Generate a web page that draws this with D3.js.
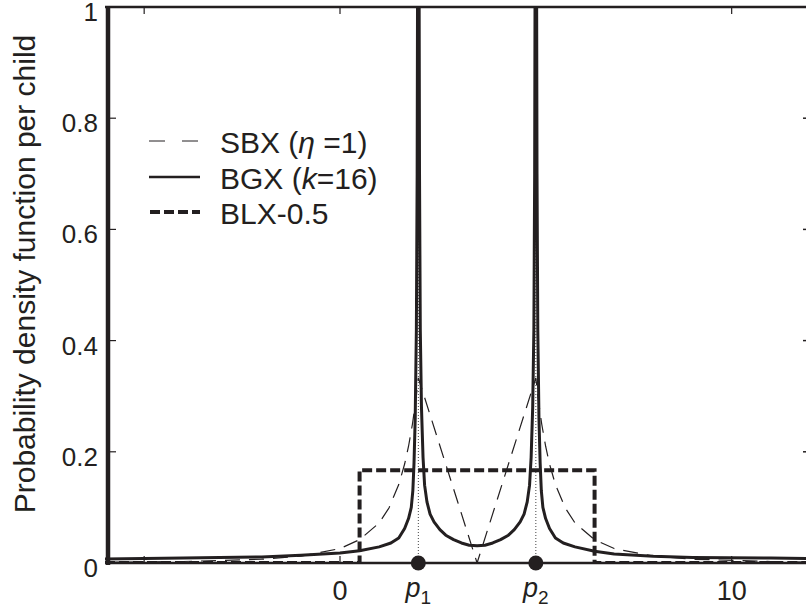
<!DOCTYPE html>
<html>
<head>
<meta charset="utf-8">
<script src="https://d3js.org/d3.v7.min.js"></script>
<style>
  body { margin: 0; background: #fff; }
  text { font-family: "Liberation Sans", Arial, Helvetica, sans-serif; fill: #231f20; }
</style>
</head>
<body>
<svg id="chart" width="806" height="614"></svg>
<script>
  // parents
  var parents = [2, 5];

  // axis ticks
  var xTicks = [-5, 0, 5, 10];
  var xLabelVals = [0, 2, 5, 10];
  var xLabelText = ["0", "p1", "p2", "10"];
  var yTicks = [0, 0.2, 0.4, 0.6, 0.8, 1];
  var yLabelText = ["0", "0.2", "0.4", "0.6", "0.8", "1"];

  // SBX (eta = 1)
  var sbxX = [-6, -4, -2, -1, 0, 0.5, 1, 1.25, 1.5, 1.65, 1.75, 1.85, 1.9, 1.95, 2,
              2.5, 3, 3.5, 4, 4.5,
              5, 5.05, 5.1, 5.15, 5.25, 5.35, 5.5, 5.75, 6, 6.5, 7, 8, 9, 11, 12];
  var sbxY = [0.0013, 0.0027, 0.0068, 0.0123, 0.026, 0.042, 0.072, 0.099, 0.141, 0.178, 0.21, 0.25, 0.275, 0.302, 0.333,
              0.222, 0.111, 0, 0.111, 0.222,
              0.333, 0.302, 0.275, 0.25, 0.21, 0.178, 0.141, 0.099, 0.072, 0.042, 0.026, 0.0123, 0.0068, 0.0027, 0.0017];

  // BGX (k = 16)
  var bgxX = [-6, -4, -2, -1, 0, 0.5, 1.0, 1.3, 1.5, 1.65, 1.75, 1.82, 1.86, 1.89, 1.92, 1.95, 1.97, 1.985,
              2.015, 2.03, 2.05, 2.08, 2.12, 2.16, 2.22, 2.3, 2.4, 2.55, 2.7, 2.9, 3.1, 3.3, 3.5,
              3.7, 3.9, 4.1, 4.3, 4.45, 4.6, 4.7, 4.78, 4.84, 4.88, 4.92, 4.95, 4.97, 4.985,
              5.015, 5.03, 5.05, 5.08, 5.11, 5.14, 5.18, 5.25, 5.35, 5.5, 5.7, 6.0, 6.5, 7, 8, 9, 11, 12];
  var bgxY = [0.007, 0.009, 0.011, 0.014, 0.018, 0.022, 0.029, 0.036, 0.045, 0.062, 0.08, 0.1, 0.13, 0.18, 0.26, 0.42, 0.7, 1.2,
              1.2, 0.7, 0.42, 0.28, 0.19, 0.14, 0.11, 0.088, 0.074, 0.06, 0.05, 0.042, 0.036, 0.032, 0.031,
              0.032, 0.036, 0.042, 0.05, 0.06, 0.074, 0.088, 0.11, 0.14, 0.19, 0.28, 0.42, 0.7, 1.2,
              1.2, 0.7, 0.42, 0.26, 0.18, 0.13, 0.1, 0.08, 0.062, 0.045, 0.036, 0.029, 0.021, 0.016, 0.012, 0.010, 0.009, 0.008];

  // BLX-0.5
  var blxX = [-6, 0.5, 0.5, 6.5, 6.5, 12];
  var blxY = [0, 0, 0.167, 0.167, 0, 0];

  var svg = d3.select("#chart");

  var x = d3.scaleLinear().domain([-6, 12]).range([105, 810]);
  var y = d3.scaleLinear().domain([0, 1]).range([563, 7]);

  svg.append("clipPath").attr("id", "plotclip")
    .append("rect")
      .attr("x", x(-6)).attr("y", y(1))
      .attr("width", x(12) - x(-6)).attr("height", y(0) - y(1));

  var plot = svg.append("g").attr("clip-path", "url(#plotclip)");

  function pts(xs, ys) { return xs.map(function(v, i) { return [v, ys[i]]; }); }
  var line = d3.line()
    .x(function(d) { return x(d[0]); })
    .y(function(d) { return y(d[1]); });

  // dotted guides at the parents
  plot.selectAll(".guide")
    .data(parents)
    .enter().append("line")
      .attr("x1", function(d) { return x(d); })
      .attr("x2", function(d) { return x(d); })
      .attr("y1", y(0)).attr("y2", y(1))
      .attr("stroke", "#444")
      .attr("stroke-width", 1)
      .attr("stroke-dasharray", "1,2");

  plot.append("path")
    .datum(pts(blxX, blxY))
    .attr("fill", "none")
    .attr("stroke", "#231f20")
    .attr("stroke-width", 4)
    .attr("stroke-dasharray", "10,4")
    .attr("d", line);

  plot.append("path")
    .datum(pts(sbxX, sbxY))
    .attr("fill", "none")
    .attr("stroke", "#231f20")
    .attr("stroke-width", 1.2)
    .attr("stroke-dasharray", "15,9")
    .attr("d", line);

  plot.append("path")
    .datum(pts(bgxX, bgxY))
    .attr("fill", "none")
    .attr("stroke", "#231f20")
    .attr("stroke-width", 3)
    .attr("stroke-linejoin", "round")
    .attr("d", line);

  // frame
  var frame = svg.append("g").attr("stroke", "#231f20").attr("fill", "none");
  frame.append("line").attr("x1", x(-6)).attr("x2", 820).attr("y1", y(1)).attr("y2", y(1)).attr("stroke-width", 2.5);
  frame.append("line").attr("x1", x(-6)).attr("x2", 820).attr("y1", y(0)).attr("y2", y(0)).attr("stroke-width", 2.5);
  frame.append("line").attr("x1", x(-6) + 3).attr("x2", x(-6) + 3).attr("y1", y(1) - 1).attr("y2", y(0) + 2).attr("stroke-width", 4.5);

  // x ticks, bottom and top
  frame.selectAll(".xtb").data(xTicks).enter().append("line")
    .attr("x1", function(d) { return x(d); }).attr("x2", function(d) { return x(d); })
    .attr("y1", y(0)).attr("y2", y(0) - 7).attr("stroke-width", 1.2);
  frame.selectAll(".xtt").data(xTicks).enter().append("line")
    .attr("x1", function(d) { return x(d); }).attr("x2", function(d) { return x(d); })
    .attr("y1", y(1)).attr("y2", y(1) + 7).attr("stroke-width", 1.2);

  // y ticks, left and right
  frame.selectAll(".ytl").data(yTicks).enter().append("line")
    .attr("x1", x(-6) + 5).attr("x2", x(-6) + 11)
    .attr("y1", function(d) { return y(d); }).attr("y2", function(d) { return y(d); })
    .attr("stroke-width", 1.2);
  frame.selectAll(".ytr").data(yTicks).enter().append("line")
    .attr("x1", x(12) - 7).attr("x2", x(12))
    .attr("y1", function(d) { return y(d); }).attr("y2", function(d) { return y(d); })
    .attr("stroke-width", 1.5);

  // parent markers
  svg.selectAll(".parent")
    .data(parents)
    .enter().append("circle")
      .attr("cx", function(d) { return x(d); })
      .attr("cy", y(0))
      .attr("r", 7.5)
      .attr("fill", "#231f20");

  // y tick labels
  svg.selectAll(".ylab")
    .data(yTicks)
    .enter().append("text")
      .attr("x", 98)
      .attr("y", function(d) { return y(d) + 14; })
      .attr("text-anchor", "end")
      .style("font-size", "26px")
      .text(function(d, i) { return yLabelText[i]; });

  // x tick labels
  var xl = svg.selectAll(".xlab")
    .data(xLabelVals)
    .enter().append("text")
      .attr("x", function(d) { return x(d); })
      .attr("y", 600)
      .attr("text-anchor", "middle")
      .style("font-size", "27px");
  xl.each(function(d, i) {
    var t = d3.select(this), s = xLabelText[i];
    if (s.charAt(0) === "p") {
      t.attr("y", 597);
      t.append("tspan").style("font-style", "italic").text("p");
      t.append("tspan").attr("dy", 7).style("font-size", "19px").text(s.slice(1));
    } else {
      t.text(s);
    }
  });

  // y axis title
  svg.append("text")
    .attr("transform", "translate(35," + 274 + ") rotate(-90)")
    .attr("text-anchor", "middle")
    .style("font-size", "30px")
    .text("Probability density function per child");

  // legend
  var legY = [141, 177, 212];
  var lg = svg.append("g");
  lg.append("line").attr("x1", 149).attr("x2", 200).attr("y1", legY[0]).attr("y2", legY[0])
    .attr("stroke", "#231f20").attr("stroke-width", 1).attr("stroke-dasharray", "16,17");
  lg.append("line").attr("x1", 149).attr("x2", 200).attr("y1", legY[1]).attr("y2", legY[1])
    .attr("stroke", "#231f20").attr("stroke-width", 2.5);
  lg.append("line").attr("x1", 150).attr("x2", 200).attr("y1", legY[2]).attr("y2", legY[2])
    .attr("stroke", "#231f20").attr("stroke-width", 4).attr("stroke-dasharray", "10,4");

  var t1 = lg.append("text").attr("x", 220).attr("y", legY[0] + 12).style("font-size", "30px");
  t1.append("tspan").text("SBX (");
  t1.append("tspan").style("font-style", "italic").text("η");
  t1.append("tspan").text(" =1)");
  var t2 = lg.append("text").attr("x", 220).attr("y", legY[1] + 12).style("font-size", "30px");
  t2.append("tspan").text("BGX (");
  t2.append("tspan").style("font-style", "italic").text("k");
  t2.append("tspan").text("=16)");
  lg.append("text").attr("x", 220).attr("y", legY[2] + 12).style("font-size", "30px").text("BLX-0.5");
</script>
</body>
</html>
